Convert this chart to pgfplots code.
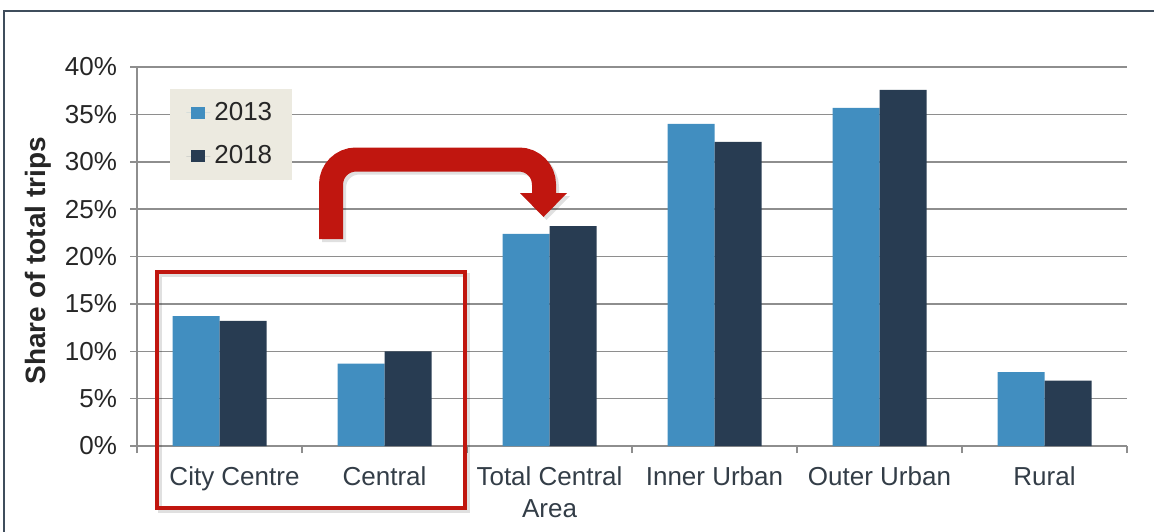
\documentclass[border=0pt]{standalone}
\usepackage{fontspec}
\setmainfont{Liberation Sans}
\usepackage{pgfplots}
\pgfplotsset{compat=1.18}
\definecolor{c13}{HTML}{418EC0}
\definecolor{c18}{HTML}{283C52}
\definecolor{legbg}{HTML}{ECEAE0}
\definecolor{redc}{HTML}{C0160F}
\definecolor{gridc}{HTML}{8E8E8E}
\definecolor{framec}{HTML}{3F4D5C}
\definecolor{txt}{HTML}{262626}
\definecolor{cattxt}{HTML}{333D47}
\begin{document}
\begin{tikzpicture}
\path[use as bounding box] (0,0) rectangle (577pt,-265.5pt);
\clip (0,0) rectangle (577pt,-265.5pt);
\begin{scope}[x=0.5pt,y=-0.5pt]
\draw[framec, line width=1pt] (4,700) -- (4,11) -- (1300,11);
\end{scope}
\begin{axis}[
  at={(68.5pt,-223pt)}, anchor=south west,
  scale only axis, width=495pt, height=189.5pt,
  ymin=0, ymax=40, xmin=-0.5, xmax=5.5,
  ybar=0pt, bar width=23.5pt,
  axis lines=left,
  axis line style={-, draw=gridc, line width=0.75pt},
  ymajorgrids=true,
  grid style={draw=gridc, line width=0.75pt},
  tick style={draw=gridc, line width=0.75pt},
  tick align=outside,
  major tick length=3.5pt, minor tick length=3.5pt,
  ytick={0,5,...,40},
  yticklabels={0\%,5\%,10\%,15\%,20\%,25\%,30\%,35\%,40\%},
  yticklabel style={font=\fontsize{13}{15}\selectfont, text=txt, xshift=-3pt},
  xtick={0,1,2,3,4,5},
  major x tick style={draw=none},
  minor xtick={-0.5,0.5,1.5,2.5,3.5,4.5,5.5},
  xticklabels={{\hspace*{15pt}City Centre},Central,{Total Central\\Area},Inner Urban,Outer Urban,Rural},
  xticklabel style={font=\fontsize{13}{16}\selectfont, text=cattxt, align=center, yshift=-3.5pt},
  ylabel={Share of total trips},
  ylabel style={font=\fontsize{14}{16}\selectfont\bfseries, text=txt, at={(axis description cs:-0.1,0.489)}, anchor=center},
  legend style={at={(0.0333,0.942)}, anchor=north west, draw=none, fill=legbg,
    font=\fontsize{13}{15}\selectfont, text=txt, inner xsep=8pt, inner ysep=4.5pt, row sep=7pt},
  legend cell align=left,
  legend image code/.code={\fill[#1] (2.5pt,-3pt) rectangle (9.5pt,3pt); \path (0pt,0pt) -- (12pt,0pt);},
]
\addplot[fill=c13, draw=none] coordinates {(0,13.7) (1,8.7) (2,22.4) (3,34.0) (4,35.7) (5,7.8)};
\addlegendentry{2013}
\addplot[fill=c18, draw=none] coordinates {(0,13.2) (1,10.0) (2,23.2) (3,32.1) (4,37.6) (5,6.9)};
\addlegendentry{2018}
\end{axis}
\begin{scope}[x=0.5pt,y=-0.5pt]
% red box with soft shadow
\draw[black, opacity=0.12, line width=2pt] (160,275) rectangle (468,511);
\draw[redc, line width=2pt] (157,272) rectangle (465,508);
% arrow shadow
\draw[black, opacity=0.12, line width=12pt, rounded corners=12.5pt] (334,242) -- (334,162.5) -- (547,162.5) -- (547,196);
\fill[black, opacity=0.12] (523,196) -- (570,196) -- (546.5,220) -- cycle;
% arrow
\draw[redc, line width=12pt, rounded corners=12.5pt] (331,239) -- (331,159.5) -- (544,159.5) -- (544,194);
\fill[redc] (520,193) -- (567,193) -- (543.5,217) -- cycle;
\end{scope}
\end{tikzpicture}
\end{document}
